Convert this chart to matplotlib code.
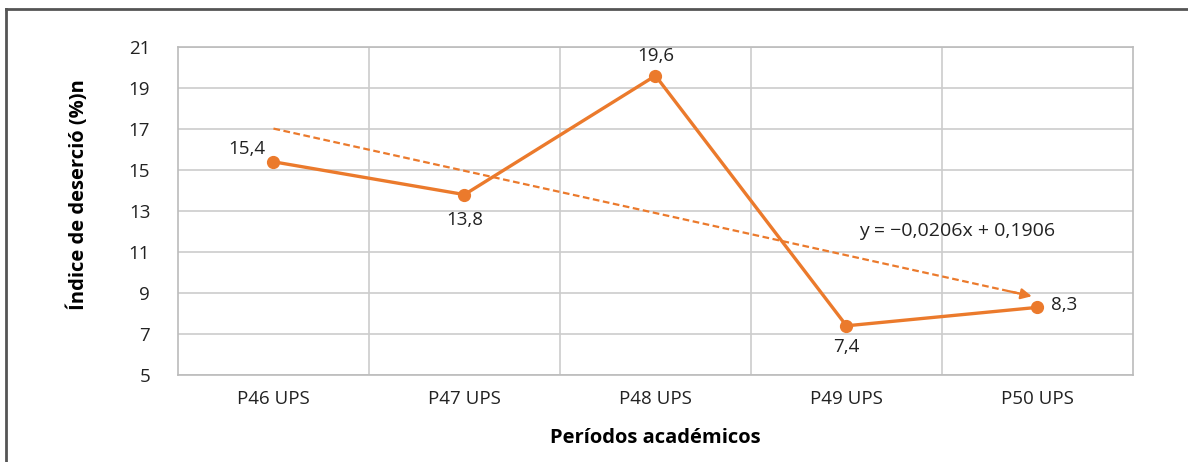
import numpy as np
import matplotlib
matplotlib.use('Agg')
import matplotlib.pyplot as plt
from matplotlib.lines import Line2D

plt.rcParams['font.family'] = ['Open Sans', 'DejaVu Sans']

# data
periodos = ['P46 UPS', 'P47 UPS', 'P48 UPS', 'P49 UPS', 'P50 UPS']
desercion = [15.4, 13.8, 19.6, 7.4, 8.3]
etiquetas = ['15,4', '13,8', '19,6', '7,4', '8,3']
ecuacion = 'y = \u22120,0206x + 0,1906'

naranja = '#eb7a2c'
gris = '#cccccc'

fig = plt.figure(figsize=(11.88, 4.62), dpi=100)
ax = fig.add_axes([0.1498, 0.1883, 0.8039, 0.71])

x = np.arange(len(periodos))

# linea de tendencia (ajuste lineal)
m, b = np.polyfit(x, desercion, 1)
xt = np.array([0, 3.93])
ax.plot(xt, m * xt + b, color=naranja, lw=1.6, ls=(0, (3, 1.6)), zorder=2)
ax.annotate('', xy=(3.97, m * 3.97 + b), xytext=(3.85, m * 3.85 + b),
            arrowprops=dict(arrowstyle='-|>', color=naranja, lw=1.6,
                            mutation_scale=16, shrinkA=0, shrinkB=0), zorder=2)

ax.plot(x, desercion, color=naranja, lw=2.4, marker='o', ms=8.5, zorder=3)

# etiquetas de datos
offs = [(-19, 9), (0, -18), (0, 14), (0, -15), (19, 2)]
for xi, yi, lab, (dx, dy) in zip(x, desercion, etiquetas, offs):
    ax.annotate(lab, (xi, yi), xytext=(dx, dy), textcoords='offset points',
                ha='center', va='center', fontsize=13.5, color='#222222')

ax.text(3.58, 12.0, ecuacion, ha='center', va='center', fontsize=14, color='#222222')

ax.set_xlim(-0.5, 4.5)
ax.set_ylim(5, 21)
ax.set_yticks(range(5, 22, 2))
ax.set_xticks(x)
ax.set_xticklabels(periodos)
ax.set_xticks(np.arange(0.5, 4.5, 1), minor=True)
ax.tick_params(which='both', length=0, labelsize=13.5, colors='#222222')
ax.tick_params(axis='x', pad=11)
ax.tick_params(axis='y', pad=20)
ax.grid(True, axis='y', which='major', color=gris, lw=1.2)
ax.grid(True, axis='x', which='minor', color=gris, lw=1.2)
ax.set_axisbelow(True)
for s in ax.spines.values():
    s.set_color('#bbbbbb')
    s.set_linewidth(1.2)

ax.set_xlabel('Períodos académicos', fontsize=14.5, fontweight='bold')
ax.set_ylabel('Índice de deserció (%)n', fontsize=14.5, fontweight='bold')
ax.xaxis.set_label_coords(0.5, -0.162)
ax.yaxis.set_label_coords(-0.093, 0.55)

# marco exterior
fig.add_artist(Line2D([6 / 1188, 1], [1 - 8.5 / 462] * 2, color='#555555', lw=2))
fig.add_artist(Line2D([6 / 1188] * 2, [0, 1 - 8.5 / 462], color='#555555', lw=2))

fig.savefig('out.png', dpi=100)
